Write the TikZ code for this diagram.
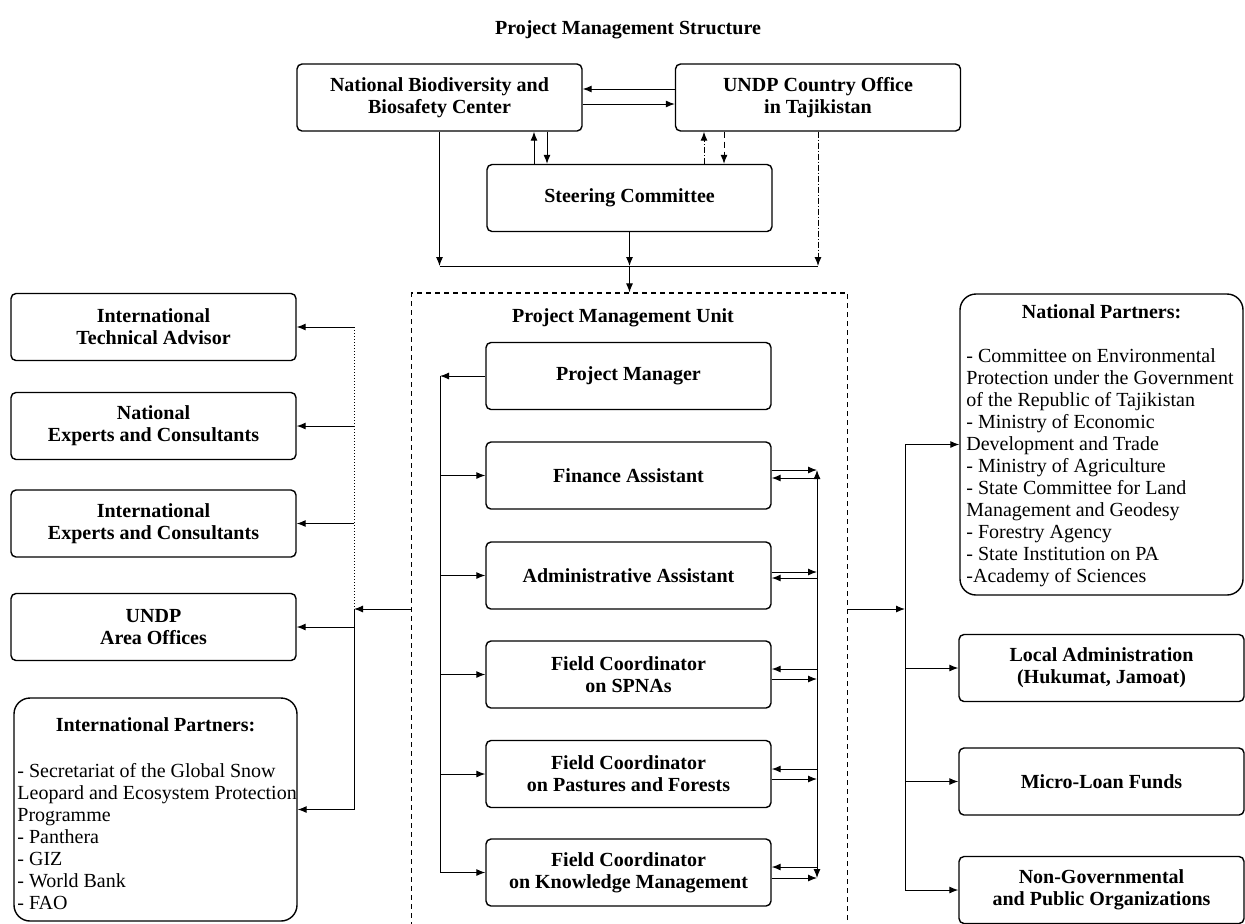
\documentclass[tikz,border=0pt]{standalone}
\usepackage{fontspec}
\setmainfont{Liberation Serif}
\usepackage{xcolor}
\usepackage{tikz}
\usetikzlibrary{arrows.meta}

\tikzset{
	unit/.style={draw,line width=0.7pt,rounded corners=2.5pt,align=center,font=\bfseries,
		minimum width=142.5pt,minimum height=33.5pt,inner sep=1pt},
	partners/.style={draw,line width=0.7pt,rounded corners=8pt,minimum width=141.5pt,inner sep=0pt},
	list/.style={anchor=north west,align=left,inner sep=0pt},
	conn/.style={line width=0.5pt},
	arr/.style={conn,-{Latex[length=4.5pt,width=3.5pt]}},
}

\begin{document}
\fontsize{10}{11}\selectfont
\begin{tikzpicture}[x=0.5pt,y=-0.5pt]
	\useasboundingbox (0,0) rectangle (1245,923);
	\node[font=\bfseries] (title) at (628,30) {Project Management Structure};
	% top level
	\node[unit] (nbbc) at (439.5,97.5) {National Biodiversity and\\Biosafety Center};
	\node[unit] (undpco) at (818,97.5) {UNDP Country Office\\in Tajikistan};
	\node[unit] (sc) at (629.5,198) {Steering Committee};
	\draw[arr] (undpco.west |- 0,89) -- (nbbc.east |- 0,89);
	\draw[arr] (nbbc.east |- 0,104) -- (undpco.west |- 0,104);
	\draw[arr] (sc.north -| 534,0) -- (nbbc.south -| 534,0);
	\draw[arr] (nbbc.south -| 547,0) -- (sc.north -| 547,0);
	\draw[arr,densely dashdotted] (sc.north -| 704,0) -- (undpco.south -| 704,0);
	\draw[arr,densely dashed] (undpco.south -| 724,0) -- (sc.north -| 724,0);
	\coordinate (bar) at (0,266);
	\draw[arr] (nbbc.south) -- (nbbc.south |- bar);
	\draw[arr,densely dashdotted] (undpco.south) -- (undpco.south |- bar);
	\draw[arr] (sc.south) -- (sc.south |- bar);
	\draw[conn] (nbbc.south |- bar) -- (undpco.south |- bar);

	% project management unit
	\node[draw,line width=0.6pt,dash pattern=on 2.5pt off 2pt,minimum width=218pt,minimum height=316pt] (pmu) at (629.5,609) {};
	\draw[arr] (sc.south |- bar) -- (pmu.north);
	\node[font=\bfseries] (pmutitle) at (623,318) {Project Management Unit};
	\node[unit] (pm) at (628.5,376) {Project Manager};
	\node[unit] (fin) at (628.5,475.5) {Finance Assistant};
	\node[unit] (admin) at (628.5,575.5) {Administrative Assistant};
	\node[unit] (spnas) at (628.5,674.5) {Field Coordinator\\on SPNAs};
	\node[unit] (pastures) at (628.5,774) {Field Coordinator\\on Pastures and Forests};
	\node[unit] (km) at (628.5,872.5) {Field Coordinator\\on Knowledge Management};
	\coordinate (ibus) at (440,0);
	\coordinate (jbus) at (817,0);
	\draw[conn] (ibus |- pm.west) -- (ibus |- km.west);
	\draw[arr] (pm.west) -- (ibus |- pm.west);
	\foreach \n in {fin,admin,spnas,pastures,km}
		\draw[arr] (ibus |- \n.west) -- (\n.west);
	\draw[conn,{Latex[length=4.5pt,width=3.5pt]}-{Latex[length=4.5pt,width=3.5pt]}] (jbus |- 0,470) -- (jbus |- 0,878);
	\foreach \n/\a/\b in {fin/470/478,admin/572/578,spnas/679/669,pastures/779/769,km/878/867}{
		\draw[arr] (\n.east |- 0,\a) -- (jbus |- 0,\a);
		\draw[arr] (jbus |- 0,\b) -- (\n.east |- 0,\b);
	}

	% left column
	\node[unit] (ita) at (153.5,327) {International\\Technical Advisor};
	\node[unit] (natexp) at (153.5,426) {National\\Experts and Consultants};
	\node[unit] (intexp) at (153.5,523.5) {International\\Experts and Consultants};
	\node[unit] (undpao) at (153.5,627) {UNDP\\Area Offices};
	\node[partners,minimum height=111.5pt] (intpart) at (155.5,809.5) {};
	\node[font=\bfseries] (intparthead) at (intpart.north |- 0,725) {International Partners:};
	\node[list] (intpartlist) at (17,763) {- Secretariat of the Global Snow\\Leopard and Ecosystem Protection\\Programme\\- Panthera\\- GIZ\\- World Bank\\- FAO};
	\coordinate (lbus) at (354,0);
	\draw[conn,densely dotted] (lbus |- ita.east) -- (lbus |- pmu.west);
	\draw[conn] (lbus |- pmu.west) -- (lbus |- intpart.east);
	\draw[arr] (pmu.west) -- (lbus |- pmu.west);
	\foreach \n in {ita,natexp,intexp,undpao,intpart}
		\draw[arr] (lbus |- \n.east) -- (\n.east);

	% right column
	\node[partners,minimum height=150.5pt] (natpart) at (1101.5,444.5) {};
	\node[font=\bfseries] (natparthead) at (natpart.north |- 0,312) {National Partners:};
	\node[list] (natpartlist) at (966,348) {- Committee on Environmental\\Protection under the Government\\of the Republic of Tajikistan\\- Ministry of Economic\\Development and Trade\\- Ministry of Agriculture\\- State Committee for Land\\Management and Geodesy\\- Forestry Agency\\- State Institution on PA\\-Academy of Sciences};
	\node[unit] (locadm) at (1101.5,668) {Local Administration\\(Hukumat, Jamoat)};
	\node[unit] (microloan) at (1101.5,781.5) {Micro-Loan Funds};
	\node[unit] (ngo) at (1101.5,890) {Non-Governmental\\and Public Organizations};
	\coordinate (rbus) at (905,0);
	\draw[conn] (rbus |- natpart.west) -- (rbus |- ngo.west);
	\draw[arr] (pmu.east) -- (rbus |- pmu.east);
	\foreach \n in {natpart,locadm,microloan,ngo}
		\draw[arr] (rbus |- \n.west) -- (\n.west);
\end{tikzpicture}
\end{document}
